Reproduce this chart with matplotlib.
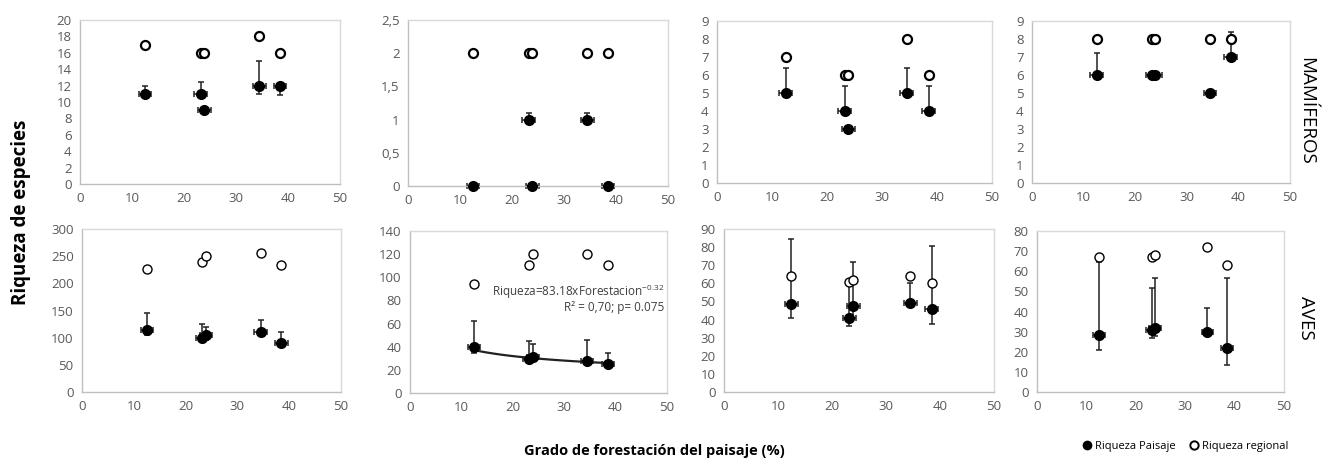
import numpy as np
import matplotlib.pyplot as plt
from matplotlib.ticker import FuncFormatter

plt.rcParams['font.family'] = ['Open Sans', 'DejaVu Sans']
plt.rcParams['mathtext.default'] = 'regular'

# forest cover of the five landscapes (%)
forest = [12.5, 23.2, 23.9, 34.5, 38.5]
forest_err = [1.2, 1.2, 1.2, 1.2, 1.2]

# mammals (top row)
mam_land = [[11, 11, 9, 12, 12], [0, 1, 0, 1, 0], [5, 4, 3, 5, 4], [6, 6, 6, 5, 7]]
mam_reg = [[17, 16, 16, 18, 16], [2, 2, 2, 2, 2], [7, 6, 6, 8, 6], [8, 8, 8, 8, 8]]
mam_lo = [[11, 11, 9, 11, 10.8], [0, 1, 0, 1, 0], [5, 4, 3, 5, 4], [6, 6, 6, 5, 7]]
mam_hi = [[12, 12.4, 9, 15, 12], [0, 1.1, 0, 1.1, 0], [6.4, 5.4, 3, 6.4, 5.4], [7.2, 6, 6, 5, 8.4]]
mam_ylim = [20, 2.5, 9, 9]
mam_ystep = [2, 0.5, 1, 1]

# birds (bottom row)
ave_land = [[115, 100, 105, 110, 90], [40, 29, 31, 28, 25], [48.5, 41, 47.5, 49, 46], [28.5, 31, 32, 30, 22]]
ave_reg = [[226, 239, 251, 256, 234], [94, 111, 120, 120, 111], [64, 60.5, 62, 64, 60], [67, 67, 68, 72, 63]]
ave_lo = [[105, 95, 105, 103, 85], [35, 27, 31, 28, 25], [41, 36.5, 41, 47.5, 37.5], [21, 27, 28, 29, 13.5]]
ave_hi = [[146, 126, 120, 132, 110], [62, 45, 42, 46, 35], [84.5, 60, 72, 60, 80.5], [64.5, 51.5, 56.5, 41.5, 56.5]]
ave_ylim = [300, 140, 90, 80]
ave_ystep = [50, 20, 10, 10]

# power fit shown in the second bird panel
fit_a = 83.18
fit_b = -0.32

# axes boxes in pixels: left, top, right, bottom
top_boxes = [(80, 20, 340, 184), (408, 20, 668, 186), (717, 21, 992, 183), (1032, 21, 1290, 183)]
bot_boxes = [(82, 229, 341, 392), (410, 231, 667, 393), (724, 229, 994, 392), (1037, 231, 1284, 392)]

W, H = 1323, 465
fig = plt.figure(figsize=(W / 100, H / 100), dpi=100)


def comma_fmt(v, pos):
    s = ('%g' % v)
    return s.replace('.', ',')


def draw_panel(box, land, reg, lo, hi, ymax, ystep, open_mew):
    l, t, r, b = box
    ax = fig.add_axes([l / W, 1 - b / H, (r - l) / W, (b - t) / H])
    land = np.array(land)
    yerr = [land - np.array(lo), np.array(hi) - land]
    ax.errorbar(forest, land, yerr=yerr, xerr=forest_err, fmt='none', ecolor='#222222',
                elinewidth=1.1, capsize=2.5, capthick=1.1, zorder=2, clip_on=False)
    ax.plot(forest, land, 'o', color='black', markersize=7, zorder=3, clip_on=False)
    ax.plot(forest, reg, 'o', mfc='white', mec='black', mew=open_mew, markersize=6.5,
            zorder=3, clip_on=False)
    ax.set_xlim(0, 50)
    ax.set_ylim(0, ymax)
    ax.set_xticks(np.arange(0, 51, 10))
    ax.set_yticks(np.arange(0, ymax + ystep / 2, ystep))
    ax.yaxis.set_major_formatter(FuncFormatter(comma_fmt))
    ax.tick_params(length=0, labelsize=9.5, colors='#595959', pad=6)
    for sp in ax.spines.values():
        sp.set_color('#d9d9d9')
        sp.set_linewidth(1.0)
    ax.spines['left'].set_color('#bfbfbf')
    ax.spines['bottom'].set_color('#bfbfbf')
    return ax


for i in range(4):
    draw_panel(top_boxes[i], mam_land[i], mam_reg[i], mam_lo[i], mam_hi[i],
               mam_ylim[i], mam_ystep[i], 1.6)

axes_b = []
for i in range(4):
    axes_b.append(draw_panel(bot_boxes[i], ave_land[i], ave_reg[i], ave_lo[i], ave_hi[i],
                             ave_ylim[i], ave_ystep[i], 1.0))

# trend line in the second bird panel
ax = axes_b[1]
xs = np.linspace(forest[0], forest[-1], 50)
ax.plot(xs, fit_a * xs ** fit_b, color='#222222', lw=1.6, zorder=2.5)
ax.text(49.5, 87, 'Riqueza=83.18xForestacion$^{-0.32}$', ha='right', va='center',
        fontsize=8.5, color='#404040')
ax.text(49.5, 74, 'R² = 0,70; p= 0.075', ha='right', va='center', fontsize=8.5, color='#404040')

# labels
fig.text(21 / W, 1 - 212 / H, 'Riqueza de especies', rotation=90, ha='center', va='center',
         fontsize=13.5, fontweight='bold')
fig.text(654 / W, 1 - 451 / H, 'Grado de forestación del paisaje (%)', ha='center', va='center',
         fontsize=10.5, fontweight='bold')
fig.text(1306 / W, 1 - 111 / H, 'MAMÍFEROS', rotation=-90, ha='center', va='center', fontsize=13.5)
fig.text(1306 / W, 1 - 318 / H, 'AVES', rotation=-90, ha='center', va='center', fontsize=13.5)

# legend
h1, = plt.plot([], [], 'o', color='black', markersize=6)
h2, = plt.plot([], [], 'o', mfc='white', mec='black', mew=1.4, markersize=6)
fig.legend([h1, h2], ['Riqueza Paisaje', 'Riqueza regional'], loc='center right',
           bbox_to_anchor=(1294 / W, 1 - 446 / H), ncol=2, frameon=False, fontsize=8,
           handletextpad=0.2, columnspacing=1.2, handlelength=1.0, borderpad=0)

fig.savefig('out.png', dpi=100)
